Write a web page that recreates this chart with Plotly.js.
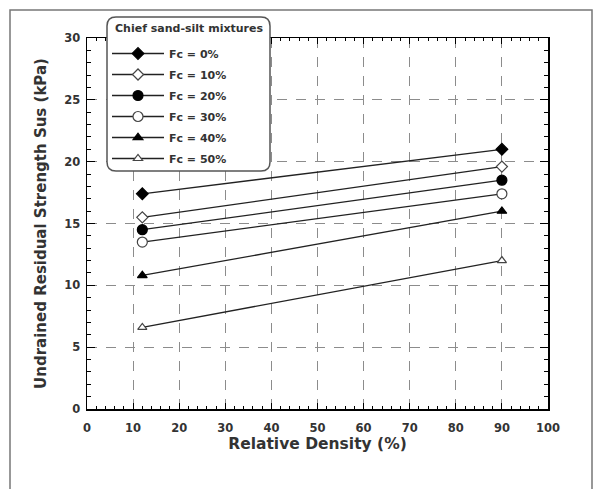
<!DOCTYPE html>
<html>
<head>
<meta charset="utf-8">
<script src="https://cdn.plot.ly/plotly-3.0.1.min.js"></script>
<style>html,body{margin:0;padding:0;background:#fff;}#chart{width:603px;height:489px;}</style>
</head>
<body>
<div id="chart"></div>
<script>
// ---- data ----
const relativeDensity = [12, 90];
const fc0  = [17.4, 21.0];
const fc10 = [15.5, 19.6];
const fc20 = [14.5, 18.5];
const fc30 = [13.5, 17.4];
const fc40 = [10.8, 16.0];
const fc50 = [6.6, 12.0];
const seriesNames = ['Fc = 0%', 'Fc = 10%', 'Fc = 20%', 'Fc = 30%', 'Fc = 40%', 'Fc = 50%'];
const legendTitle = 'Chief sand-silt mixtures';
const xTickVals = [0, 10, 20, 30, 40, 50, 60, 70, 80, 90, 100];
const yTickVals = [0, 5, 10, 15, 20, 25, 30];

const seriesValues = [fc0, fc10, fc20, fc30, fc40, fc50];
const symbols = ['diamond', 'diamond', 'circle', 'circle', 'triangle-up', 'triangle-up'];
const filled  = [true, false, true, false, true, false];
const sizes   = [9, 8.5, 10, 10, 8.5, 8];

const FONT = 'DejaVu Sans, Verdana, sans-serif';

const traces = seriesValues.map((vals, i) => ({
  type: 'scatter',
  mode: 'lines+markers',
  name: seriesNames[i],
  legendgroup: 'g' + i,
  x: relativeDensity,
  y: vals,
  line: {color: '#222', width: 1.3},
  marker: {
    symbol: symbols[i],
    size: sizes[i],
    color: filled[i] ? '#000' : '#fff',
    line: {color: filled[i] ? '#000' : '#444', width: 1.2}
  }
}));

// plot-area geometry in pixels (for paper-coordinate decorations)
const W = 603, H = 489, mL = 87, mR = 55, mT = 38, mB = 80;
const pw = W - mL - mR, ph = H - mT - mB;
const px = x => (x - mL) / pw;
const py = y => (H - mB - y) / ph;

function roundRect(x0p, y0p, x1p, y1p, r) {
  const x0 = px(x0p), x1 = px(x1p), yt = py(y0p), yb = py(y1p);
  const rx = r / pw, ry = r / ph;
  return `M${x0+rx},${yt} L${x1-rx},${yt} Q${x1},${yt} ${x1},${yt-ry} L${x1},${yb+ry} Q${x1},${yb} ${x1-rx},${yb} ` +
         `L${x0+rx},${yb} Q${x0},${yb} ${x0},${yb+ry} L${x0},${yt-ry} Q${x0},${yt} ${x0+rx},${yt} Z`;
}

const axisCommon = {
  showline: true, linecolor: '#000', linewidth: 1.5, mirror: 'ticks',
  ticks: 'inside', tickcolor: '#000', tickwidth: 1,
  showgrid: true, gridcolor: '#8c8c8c', gridwidth: 1, griddash: '10px,9px',
  zeroline: false,
  tickfont: {family: FONT, size: 11.5, color: '#333', weight: 'bold'}
};

const layout = {
  width: W, height: H,
  margin: {l: mL, r: mR, t: mT, b: mB, pad: 0},
  paper_bgcolor: '#fff', plot_bgcolor: '#fff',
  font: {family: FONT, color: '#333'},
  xaxis: Object.assign({}, axisCommon, {
    range: [0, 100], tickvals: xTickVals, ticklen: 6, ticklabelstandoff: 8,
    minor: {dtick: 2, ticks: 'inside', ticklen: 3, tickcolor: '#000', showgrid: false},
    title: {text: 'Relative Density (%)', font: {family: FONT, size: 15.5, color: '#333', weight: 'bold'}, standoff: 3}
  }),
  yaxis: Object.assign({}, axisCommon, {
    range: [0, 30], tickvals: yTickVals, ticklen: 8, ticklabelstandoff: 3,
    minor: {dtick: 1, ticks: 'inside', ticklen: 4, tickcolor: '#000', showgrid: false},
    title: {text: 'Undrained Residual Strength Sus (kPa)', font: {family: FONT, size: 15, color: '#333', weight: 'bold'}, standoff: 14}
  }),
  legend: {
    x: px(107), y: py(39), xanchor: 'left', yanchor: 'top',
    bgcolor: 'rgba(0,0,0,0)', borderwidth: 0,
    itemwidth: 52, tracegroupgap: 2,
    font: {family: FONT, size: 11, color: '#333', weight: 'bold'}
  },
  showlegend: true,
  annotations: [
    {text: legendTitle, xref: 'paper', yref: 'paper', x: px(189), y: py(29),
     xanchor: 'center', yanchor: 'middle', showarrow: false,
     font: {family: FONT, size: 11, color: '#333', weight: 'bold'}}
  ],
  shapes: [
    {type: 'rect', xref: 'paper', yref: 'paper', x0: px(10), x1: px(592), y0: py(500), y1: py(10),
     line: {color: '#777', width: 1.5}, fillcolor: 'rgba(0,0,0,0)', layer: 'below'},
    {type: 'path', xref: 'paper', yref: 'paper', path: roundRect(107, 17, 270, 171, 9),
     line: {color: '#555', width: 1.5}, fillcolor: '#fff', layer: 'above'}
  ]
};

Plotly.newPlot('chart', traces, layout, {displayModeBar: false, staticPlot: true});
</script>
</body>
</html>
